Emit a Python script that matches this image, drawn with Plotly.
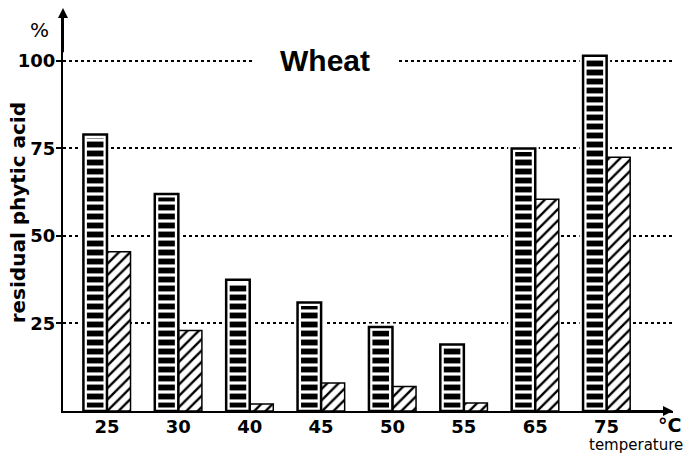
import plotly.graph_objects as go

# residual phytic acid (%) in wheat after 2 h and 4 h at each temperature
temps = ["25", "30", "40", "45", "50", "55", "65", "75"]
after_2h = [79, 62, 37.5, 31, 24, 19, 75, 101.5]
after_4h = [45.5, 23, 2, 8, 7, 2.3, 60.5, 72.5]
y_ticks = [25, 50, 75, 100]

BOLD = "DejaVu Sans"
W = 0.33

fig = go.Figure()

# 2h bars: ladder fill, white inner rim, black outline on top
fig.add_trace(go.Bar(
    x=temps, y=after_2h, width=W, offset=-W,
    marker=dict(color="white", line=dict(color="white", width=7),
                pattern=dict(shape="-", fgcolor="black", bgcolor="white", fgopacity=1,
                             size=9, solidity=0.65)),
    showlegend=False, hoverinfo="skip",
))
fig.add_trace(go.Bar(
    x=temps, y=after_4h, width=W, offset=0,
    marker=dict(color="white", line=dict(color="black", width=1.5),
                pattern=dict(shape="/", fgcolor="black", bgcolor="white", fgopacity=1,
                             size=8, solidity=0.3)),
    showlegend=False, hoverinfo="skip",
))
fig.add_trace(go.Bar(
    x=temps, y=after_2h, width=W, offset=-W,
    marker=dict(color="rgba(0,0,0,0)", line=dict(color="black", width=2.5)),
    showlegend=False, hoverinfo="skip",
))

fig.update_layout(
    width=687, height=454,
    margin=dict(l=63, r=14, t=14, b=43),
    barmode="overlay",
    plot_bgcolor="white", paper_bgcolor="white",
    font=dict(family=BOLD, color="black"),
    xaxis=dict(
        range=[-0.616, 7.93], showline=True, linecolor="black", linewidth=2,
        ticks="", showgrid=False, tickfont=dict(size=18, family=BOLD, weight="bold"),
        ticklabelstandoff=-2, automargin=False, fixedrange=True,
    ),
    yaxis=dict(
        range=[0, 113.4], tickvals=y_ticks, showline=True, linecolor="black", linewidth=2,
        ticks="outside", ticklen=5, tickwidth=2, tickcolor="black",
        tickfont=dict(size=18, family=BOLD, weight="bold"), ticklabelstandoff=-3,
        showgrid=True, gridcolor="black", gridwidth=1.5, griddash="dot",
        zeroline=False, automargin=False,
    ),
)

# axis arrows
fig.add_annotation(xref="x domain", yref="y domain", axref="x domain", ayref="y domain",
                   x=0, y=1.015, ax=0, ay=0.9, showarrow=True, arrowhead=2,
                   arrowsize=1, arrowwidth=2, arrowcolor="black", text="")
fig.add_annotation(xref="x domain", yref="y domain", axref="x domain", ayref="y domain",
                   x=1.0, y=0, ax=0.9, ay=0, showarrow=True, arrowhead=2,
                   arrowsize=1, arrowwidth=2, arrowcolor="black", text="")

fig.add_annotation(text="residual phytic acid", xref="paper", yref="paper",
                   x=-0.074, y=0.5, xanchor="center", yanchor="middle",
                   textangle=-90, showarrow=False,
                   font=dict(size=20, family=BOLD, weight="bold"))
fig.add_annotation(text="Wheat", xref="paper", yref="y", x=0.43, y=100,
                   xanchor="center", showarrow=False, bgcolor="white", borderpad=26,
                   font=dict(size=30, family="Liberation Sans", weight="bold"))
fig.add_annotation(text="%", xref="paper", yref="paper", x=-0.038, y=0.96,
                   xanchor="center", yanchor="middle", showarrow=False,
                   font=dict(size=20, family=BOLD))
fig.add_annotation(text="°C", xref="paper", yref="paper", x=0.995, y=-0.035,
                   xanchor="center", yanchor="middle", showarrow=False,
                   font=dict(size=19, family=BOLD, weight="bold"))
fig.add_annotation(text="temperature", xref="paper", yref="paper", x=1.02, y=-0.085,
                   xanchor="right", yanchor="middle", showarrow=False,
                   font=dict(size=15, family=BOLD))
fig.add_annotation(text="2h", x=temps[0], y=after_2h[0], xshift=-10, yanchor="bottom",
                   xanchor="center", showarrow=False,
                   font=dict(size=19, family=BOLD, weight="bold"))
fig.add_annotation(text="4h", x=temps[0], y=after_4h[0], xshift=13, yanchor="bottom",
                   xanchor="center", showarrow=False, bgcolor="white", borderpad=0,
                   font=dict(size=19, family=BOLD, weight="bold"))

# drop the browser's default body margin so the figure sits at the page corner
fig.write_html("out.html", config={"displayModeBar": False},
               post_script="document.body.style.margin='0';")
